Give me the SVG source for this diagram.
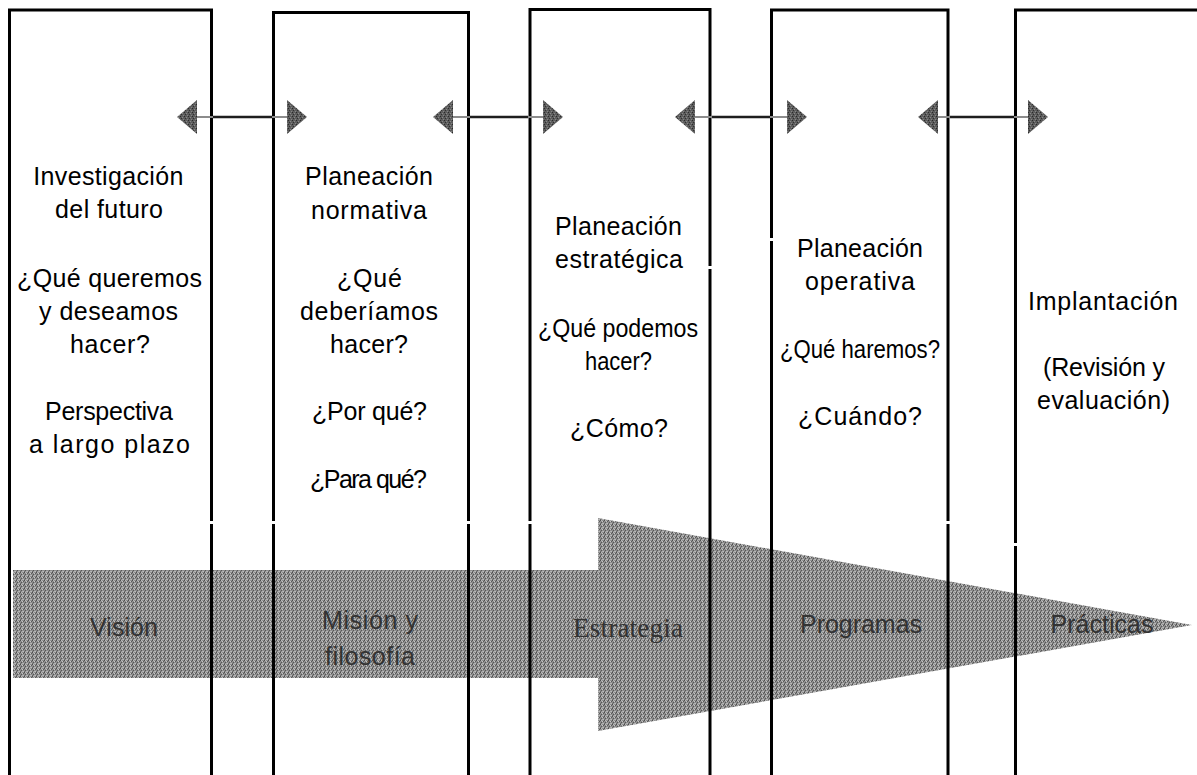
<svg xmlns="http://www.w3.org/2000/svg" width="1197" height="775" viewBox="0 0 1197 775">
  <style>
    .col { fill: none; stroke: #000; stroke-width: 3; }
    .t { font-family: "Liberation Sans", Arial, sans-serif; font-size: 25px; fill: #000; text-anchor: middle; }
    .lbl { font-family: "Liberation Sans", Arial, sans-serif; font-size: 25px; fill: #333; text-anchor: middle; }
    .lbl-serif { font-family: "Liberation Serif", "Times New Roman", serif; font-size: 27px; fill: #333; text-anchor: middle; }
    .head { fill: url(#stipple-dark); }
    .shaft-light { stroke: #8c8c8c; stroke-width: 2; }
    .shaft-dark { stroke: #1e1e1e; stroke-width: 2.5; }
    .flow { fill: url(#stipple); }
  </style>

  <defs>
    <!-- halftone-like grain for the grey fills -->
    <pattern id="stipple" width="4" height="4" patternUnits="userSpaceOnUse">
      <rect width="4" height="4" fill="#8e8e8e"/>
      <rect x="0" y="0" width="1" height="1" fill="#4e4e4e"/>
      <rect x="1" y="0" width="1" height="1" fill="#b8b8b8"/>
      <rect x="2" y="1" width="1" height="1" fill="#c6c6c6"/>
      <rect x="3" y="1" width="1" height="1" fill="#5a5a5a"/>
      <rect x="1" y="2" width="1" height="1" fill="#565656"/>
      <rect x="3" y="3" width="1" height="1" fill="#bcbcbc"/>
      <rect x="0" y="3" width="1" height="1" fill="#6a6a6a"/>
      <rect x="2" y="3" width="1" height="1" fill="#b0b0b0"/>
    </pattern>
    <pattern id="stipple-dark" width="4" height="4" patternUnits="userSpaceOnUse">
      <rect width="4" height="4" fill="#5c5c5c"/>
      <rect x="0" y="0" width="1" height="1" fill="#2a2a2a"/>
      <rect x="2" y="1" width="1" height="1" fill="#8a8a8a"/>
      <rect x="1" y="2" width="1" height="1" fill="#303030"/>
      <rect x="3" y="3" width="1" height="1" fill="#858585"/>
    </pattern>
  </defs>

  <rect width="1197" height="775" fill="#fff"/>

  <!-- large process arrow running under the columns -->
  <g id="flow-arrow">
    <polygon class="flow" points="13,570 598,570 598,518 1192,625 598,731 598,678 13,678"/>
  </g>

  <!-- stage columns (open at the bottom) -->
  <g id="col-investigacion">
    <path class="col" d="M9.5,775 V10 H211.5 V521 M211.5,524 V775"/>
    <text class="t" x="108.3" y="185" textLength="150" lengthAdjust="spacing">Investigación</text>
    <text class="t" x="109" y="218" textLength="108" lengthAdjust="spacing">del futuro</text>
    <text class="t" x="109.5" y="287" textLength="185" lengthAdjust="spacing">¿Qué queremos</text>
    <text class="t" x="108.5" y="320" textLength="139" lengthAdjust="spacing">y deseamos</text>
    <text class="t" x="110" y="353" textLength="80" lengthAdjust="spacing">hacer?</text>
    <text class="t" x="109" y="420" textLength="128" lengthAdjust="spacing">Perspectiva</text>
    <text class="t" x="109.5" y="453" textLength="161" lengthAdjust="spacing">a largo plazo</text>
  </g>

  <g id="col-normativa">
    <path class="col" d="M273.5,521 V12.5 H468.5 V521 M273.5,524 V775 M468.5,524 V775"/>
    <text class="t" x="369" y="185" textLength="128" lengthAdjust="spacing">Planeación</text>
    <text class="t" x="369" y="219" textLength="116" lengthAdjust="spacing">normativa</text>
    <text class="t" x="369.5" y="287" textLength="65" lengthAdjust="spacing">¿Qué</text>
    <text class="t" x="369" y="320" textLength="138" lengthAdjust="spacing">deberíamos</text>
    <text class="t" x="369" y="353" textLength="78" lengthAdjust="spacing">hacer?</text>
    <text class="t" x="369.5" y="420" textLength="115" lengthAdjust="spacing">¿Por qué?</text>
    <text class="t" x="368.5" y="488" textLength="117" lengthAdjust="spacing">¿Para qué?</text>
  </g>

  <g id="col-estrategica">
    <path class="col" d="M530,521 V9.5 H710 V266 M530,524 V775 M710,269 V775"/>
    <text class="t" x="618.5" y="235" textLength="127" lengthAdjust="spacing">Planeación</text>
    <text class="t" x="619" y="268" textLength="128" lengthAdjust="spacing">estratégica</text>
    <text class="t" x="618" y="337" textLength="160" lengthAdjust="spacingAndGlyphs">¿Qué podemos</text>
    <text class="t" x="618.5" y="370" textLength="67" lengthAdjust="spacingAndGlyphs">hacer?</text>
    <text class="t" x="619" y="437" textLength="98" lengthAdjust="spacing">¿Cómo?</text>
  </g>

  <g id="col-operativa">
    <path class="col" d="M771.5,238 V10 H948 V521 M771.5,241 V775 M948,524 V775"/>
    <text class="t" x="860" y="257" textLength="126" lengthAdjust="spacing">Planeación</text>
    <text class="t" x="860" y="290" textLength="110" lengthAdjust="spacing">operativa</text>
    <text class="t" x="860" y="358" textLength="160" lengthAdjust="spacingAndGlyphs">¿Qué haremos?</text>
    <text class="t" x="860" y="425" textLength="124" lengthAdjust="spacing">¿Cuándo?</text>
  </g>

  <g id="col-implantacion">
    <path class="col" d="M1015.5,543 V10 H1197 M1015.5,546 V775"/>
    <text class="t" x="1103" y="310" textLength="150" lengthAdjust="spacing">Implantación</text>
    <text class="t" x="1104" y="376" textLength="122" lengthAdjust="spacing">(Revisión y</text>
    <text class="t" x="1103.5" y="409" textLength="133" lengthAdjust="spacing">evaluación)</text>
  </g>

  <!-- two-way links between neighbouring stages -->
  <g id="connectors">
    <g id="link-1">
      <line class="shaft-light" x1="197" y1="117" x2="287" y2="117"/>
      <line class="shaft-dark" x1="213" y1="117" x2="272" y2="117"/>
      <polygon class="head" points="177,117 197,100 197,134"/>
      <polygon class="head" points="307,117 287,100 287,134"/>
    </g>
    <g id="link-2">
      <line class="shaft-light" x1="453" y1="117" x2="543" y2="117"/>
      <line class="shaft-dark" x1="470" y1="117" x2="528" y2="117"/>
      <polygon class="head" points="433,117 453,100 453,134"/>
      <polygon class="head" points="563,117 543,100 543,134"/>
    </g>
    <g id="link-3">
      <line class="shaft-light" x1="695" y1="117" x2="787" y2="117"/>
      <line class="shaft-dark" x1="712" y1="117" x2="770" y2="117"/>
      <polygon class="head" points="675,117 695,100 695,134"/>
      <polygon class="head" points="807,117 787,100 787,134"/>
    </g>
    <g id="link-4">
      <line class="shaft-light" x1="938" y1="117" x2="1028" y2="117"/>
      <line class="shaft-dark" x1="950" y1="117" x2="1014" y2="117"/>
      <polygon class="head" points="918,117 938,100 938,134"/>
      <polygon class="head" points="1048,117 1028,100 1028,134"/>
    </g>
  </g>

  <!-- labels carried by the flow arrow -->
  <g id="flow-labels">
    <text class="lbl" x="124" y="636" textLength="68" lengthAdjust="spacing">Visión</text>
    <text class="lbl" x="370" y="629" textLength="96" lengthAdjust="spacing">Misión y</text>
    <text class="lbl" x="370" y="665" textLength="90" lengthAdjust="spacing">filosofía</text>
    <text class="lbl-serif" x="628" y="637" textLength="110" lengthAdjust="spacing">Estrategia</text>
    <text class="lbl" x="861" y="633" textLength="122" lengthAdjust="spacing">Programas</text>
    <text class="lbl" x="1102" y="633" textLength="103" lengthAdjust="spacing">Prácticas</text>
  </g>
</svg>
